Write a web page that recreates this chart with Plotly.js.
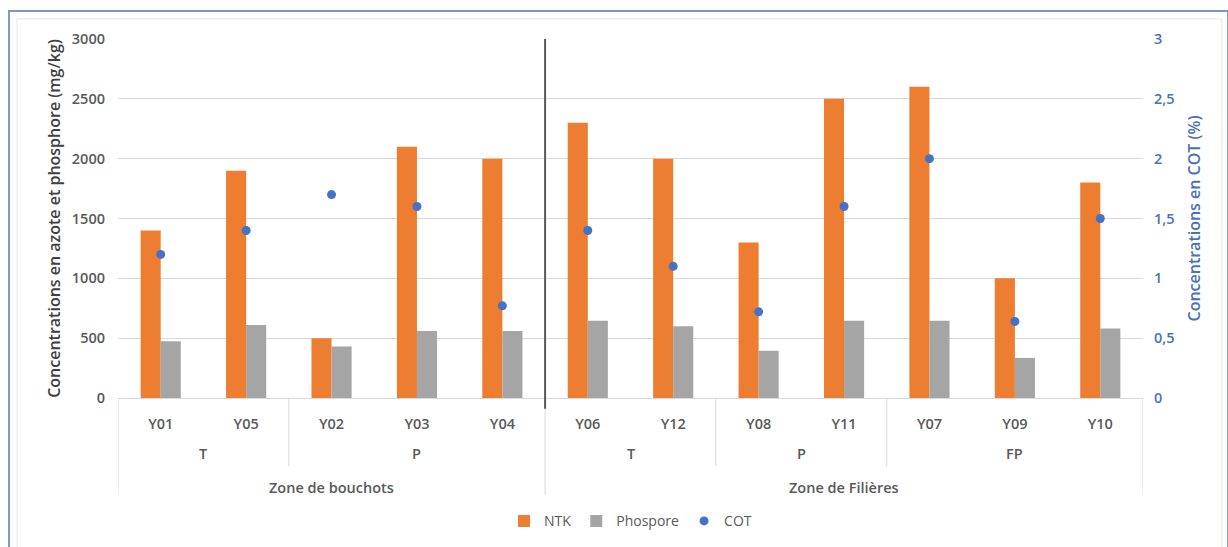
<!DOCTYPE html>
<html>
<head>
<meta charset="utf-8">
<script src="https://cdn.plot.ly/plotly-3.0.1.min.js"></script>
<style>
  html, body { margin: 0; padding: 0; background: #ffffff; }
  #chart { width: 1228px; height: 547px; }
</style>
</head>
<body>
<div id="chart"></div>
<script>
// Sampling points, their station type and their zone
const samples  = ['Y01', 'Y05', 'Y02', 'Y03', 'Y04', 'Y06', 'Y12', 'Y08', 'Y11', 'Y07', 'Y09', 'Y10'];
const stations = ['T', 'T', 'P', 'P', 'P', 'T', 'T', 'P', 'P', 'FP', 'FP', 'FP'];
const zones    = ['Zone de bouchots', 'Zone de bouchots', 'Zone de bouchots', 'Zone de bouchots', 'Zone de bouchots',
                  'Zone de Filières', 'Zone de Filières', 'Zone de Filières', 'Zone de Filières',
                  'Zone de Filières', 'Zone de Filières', 'Zone de Filières'];

// Concentrations (mg/kg) and organic carbon (%)
const ntk       = [1400, 1900, 500, 2100, 2000, 2300, 2000, 1300, 2500, 2600, 1000, 1800];
const phosphore = [475, 610, 430, 560, 560, 645, 600, 395, 645, 645, 335, 580];
const cot       = [1.2, 1.4, 1.7, 1.6, 0.77, 1.4, 1.1, 0.72, 1.6, 2.0, 0.64, 1.5];

const idx = samples.map((_, i) => i);

// Contiguous runs of a key along the axis
function runs(keyFn) {
  const out = [];
  idx.forEach(i => {
    const k = keyFn(i);
    const last = out[out.length - 1];
    if (last && last.key === k) last.end = i;
    else out.push({ key: k, start: i, end: i, label: k.split('|').pop() });
  });
  return out;
}
const zoneRuns = runs(i => zones[i]);
const stationRuns = runs(i => zones[i] + '|' + stations[i]);

const grey = '#595959';
const catLine = '#d9d9d9';
const fontFam = '"Open Sans", "Noto Sans", sans-serif';
const labelFont = { family: fontFam, size: 14.5, color: grey, weight: 600 };

const shapes = [];
const annotations = [];

// Station level separators (short) and zone separators (long)
stationRuns.forEach(r => {
  const b = r.start - 0.5;
  if (!zoneRuns.some(z => z.start === r.start)) {
    shapes.push({ type: 'line', xref: 'x', yref: 'paper', x0: b, x1: b, y0: 0, y1: -0.19,
                  line: { color: catLine, width: 1 } });
  }
  annotations.push({ xref: 'x', yref: 'paper', x: (r.start + r.end) / 2, y: -0.155,
                     text: r.label, showarrow: false, yanchor: 'middle', font: labelFont });
});
zoneRuns.forEach((z, k) => {
  const edges = [z.start - 0.5];
  if (k === zoneRuns.length - 1) edges.push(z.end + 0.5);
  edges.forEach(b => {
    shapes.push({ type: 'line', xref: 'x', yref: 'paper', x0: b, x1: b, y0: 0, y1: -0.27,
                  line: { color: catLine, width: 1 } });
  });
  if (k > 0) {
    // dark divider between the two zones inside the plot
    shapes.push({ type: 'line', xref: 'x', yref: 'paper', x0: z.start - 0.5, x1: z.start - 0.5,
                  y0: -0.03, y1: 1, line: { color: '#595959', width: 2 } });
  }
  annotations.push({ xref: 'x', yref: 'paper', x: (z.start + z.end) / 2, y: -0.25,
                     text: z.key, showarrow: false, yanchor: 'middle', font: labelFont });
});

// Frame around the figure
shapes.push({ type: 'rect', xref: 'paper', yref: 'paper', x0: -0.1063, x1: 1.083, y0: -0.46, y1: 1.078,
              line: { color: '#8096bb', width: 2 }, layer: 'below' });
shapes.push({ type: 'rect', xref: 'paper', yref: 'paper', x0: -0.0985, x1: 1.077, y0: -0.46, y1: 1.056,
              line: { color: '#e6e6e6', width: 1 }, layer: 'below' });

const traces = [
  { type: 'bar', name: 'NTK', x: idx, y: ntk, marker: { color: '#ed7d31' }, yaxis: 'y' },
  { type: 'bar', name: 'Phospore', x: idx, y: phosphore, marker: { color: '#a5a5a5' }, yaxis: 'y' },
  { type: 'scatter', mode: 'markers', name: 'COT', x: idx, y: cot, yaxis: 'y2',
    marker: { color: '#4472c4', size: 9 } }
];

const layout = {
  width: 1228, height: 547,
  margin: { l: 118, r: 85, t: 39, b: 149 },
  paper_bgcolor: '#ffffff', plot_bgcolor: '#ffffff',
  separators: ', ',
  barmode: 'group', bargap: 0.53, bargroupgap: 0,
  font: { family: fontFam, color: grey },
  xaxis: {
    range: [-0.5, samples.length - 0.5], tickvals: idx, ticktext: samples,
    showgrid: false, zeroline: false, showline: true, linecolor: catLine, linewidth: 1,
    ticks: '', ticklabelstandoff: 13, tickfont: labelFont
  },
  yaxis: {
    range: [0, 3000], dtick: 500, showgrid: true, gridcolor: '#d9d9d9', zeroline: false,
    showline: false, ticks: '', ticklabelstandoff: 12, tickfont: labelFont,
    title: { text: 'Concentrations en azote et phosphore (mg/kg)', standoff: 7,
             font: { family: fontFam, size: 16, color: '#404040', weight: 600 } }
  },
  yaxis2: {
    overlaying: 'y', side: 'right', range: [0, 3], dtick: 0.5, showgrid: false, zeroline: false,
    showline: false, ticks: '', ticklabelstandoff: 10,
    tickfont: { family: fontFam, size: 14.5, color: '#4a72b5', weight: 600 },
    title: { text: 'Concentrations en COT (%)', standoff: 15,
             font: { family: fontFam, size: 16, color: '#4a72b5', weight: 600 } }
  },
  legend: {
    orientation: 'h', xref: 'paper', x: 0.5, xanchor: 'center',
    yref: 'container', y: 0.047, yanchor: 'middle',
    font: { family: fontFam, size: 14, color: grey }, itemwidth: 30, traceorder: 'normal'
  },
  shapes: shapes,
  annotations: annotations,
  showlegend: true
};

Plotly.newPlot('chart', traces, layout, { displayModeBar: false, staticPlot: true });
</script>
</body>
</html>
